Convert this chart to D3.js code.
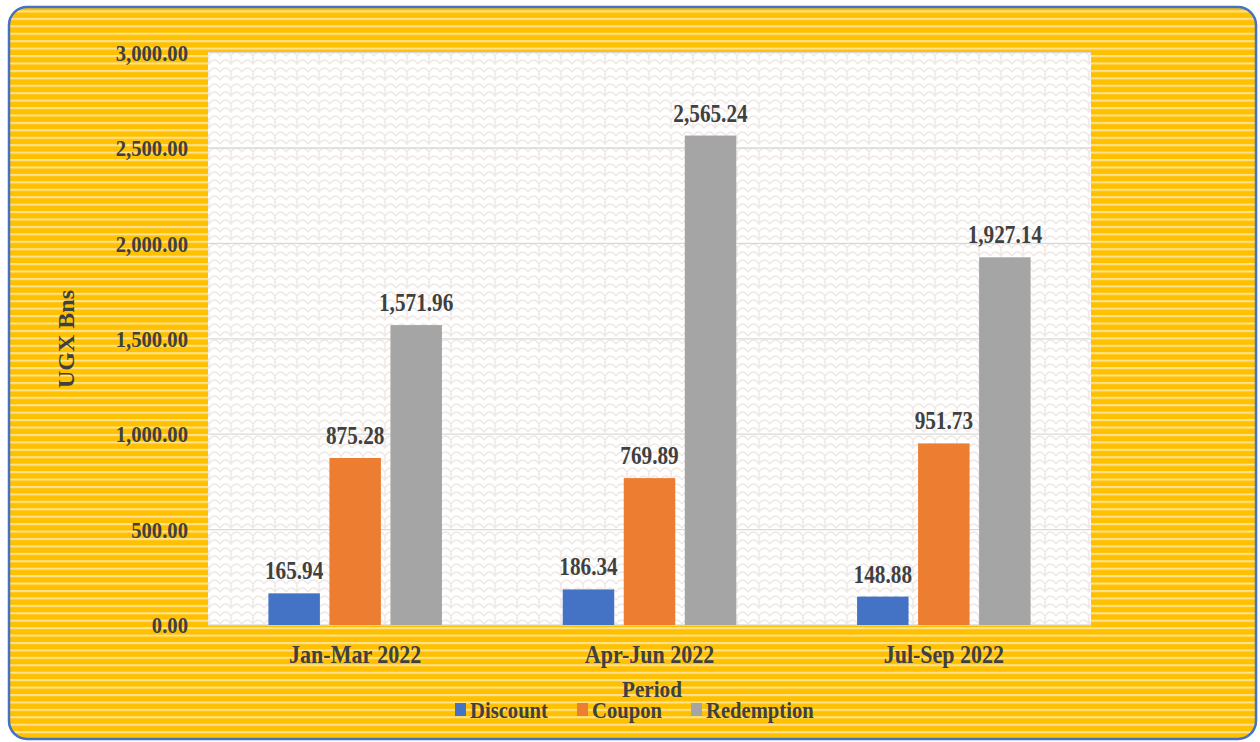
<!DOCTYPE html>
<html><head><meta charset="utf-8">
<script src="https://cdn.jsdelivr.net/npm/d3@7"></script>
<style>html,body{margin:0;padding:0;background:#fff;}svg{display:block;}</style>
</head><body>
<script>
const categories = ["Jan-Mar 2022", "Apr-Jun 2022", "Jul-Sep 2022"];
const seriesNames = ["Discount", "Coupon", "Redemption"];
const discount = [165.94, 186.34, 148.88];
const coupon = [875.28, 769.89, 951.73];
const redemption = [1571.96, 2565.24, 1927.14];
const yTicks = [0, 500, 1000, 1500, 2000, 2500, 3000];
const colors = ["#4472C4", "#ED7D31", "#A5A5A5"];

const values = [discount, coupon, redemption];
const W = 1260, H = 742;
const svg = d3.select("body").append("svg").attr("width", W).attr("height", H);
const defs = svg.append("defs");

const stripe = defs.append("pattern").attr("id", "stripes").attr("patternUnits", "userSpaceOnUse")
  .attr("width", 20).attr("height", 7.43).attr("y", 3);
stripe.append("rect").attr("width", 20).attr("height", 7.43).attr("fill", "#FFC000");
stripe.append("rect").attr("y", 0).attr("width", 20).attr("height", 2.1).attr("fill", "#FFE28F");

const scale = defs.append("pattern").attr("id", "scales").attr("patternUnits", "userSpaceOnUse")
  .attr("width", 22).attr("height", 16);
scale.append("rect").attr("width", 22).attr("height", 16).attr("fill", "#FFFFFF");
scale.append("path").attr("d", "M0,8 Q5.5,0 11,8 Q16.5,0 22,8 M-11,16 Q-5.5,8 0,16 M0,16 Q5.5,8 11,16 Q16.5,8 22,16 M11,8 Q11,12 11,16 M0,0 Q5.5,-8 11,0 Q16.5,-8 22,0")
  .attr("fill", "none").attr("stroke", "#EFE8E4").attr("stroke-width", 1.5);

svg.append("rect").attr("x", 9).attr("y", 7).attr("width", 1247).attr("height", 732).attr("rx", 18)
  .attr("fill", "url(#stripes)");

const margin = {left: 208, right: 1091, top: 52.6, bottom: 625};
const x0 = d3.scaleBand().domain(categories).range([margin.left, margin.right]).paddingInner(0).paddingOuter(0);
const x1 = d3.scaleBand().domain(seriesNames).range([0, x0.bandwidth()]).paddingInner(0.156).paddingOuter(0.99);
const y = d3.scaleLinear().domain([0, 3000]).range([margin.bottom, margin.top]);

svg.append("rect").attr("x", margin.left).attr("y", margin.top).attr("width", margin.right - margin.left)
  .attr("height", margin.bottom - margin.top).attr("fill", "url(#scales)");

// gridlines
svg.append("g").selectAll("line").data(yTicks.filter(d => d > 0)).join("line")
  .attr("x1", margin.left).attr("x2", margin.right)
  .attr("y1", d => y(d)).attr("y2", d => y(d))
  .attr("stroke", "#D9D9D9").attr("stroke-width", 1.3);

const font = "'Liberation Serif','Times New Roman',serif";
const textCol = "#404040";

function condense(sel, sx) {
  sel.attr("transform", function() {
    const x = +(this.getAttribute("x") || 0);
    return `translate(${x},0) scale(${sx},1) translate(${-x},0)`;
  });
}

// y axis tick labels
const fmt = d3.format(",.2f");
const yAxis = d3.axisLeft(y).tickValues(yTicks).tickFormat(fmt).tickSize(0).tickPadding(20);
const gy = svg.append("g").attr("transform", `translate(${margin.left},0)`).call(yAxis);
gy.select(".domain").remove();
gy.selectAll("text").attr("font-family", font).attr("font-weight", "bold").attr("font-size", 23.5)
  .attr("fill", textCol).attr("dy", "0.33em").call(condense, 0.88);

// x axis
svg.append("line").attr("x1", margin.left).attr("x2", margin.right).attr("y1", y(0)).attr("y2", y(0))
  .attr("stroke", "#D9D9D9").attr("stroke-width", 1.3);
const xAxis = d3.axisBottom(x0).tickSize(0).tickPadding(20);
const gx = svg.append("g").attr("transform", `translate(0,${margin.bottom})`).call(xAxis);
gx.select(".domain").remove();
gx.selectAll("text").attr("font-family", font).attr("font-weight", "bold").attr("font-size", 25)
  .attr("fill", textCol).call(condense, 0.88);

// bars
const groups = svg.append("g").selectAll("g").data(categories).join("g")
  .attr("transform", d => `translate(${x0(d)},0)`);
groups.selectAll("rect").data((c, i) => seriesNames.map((s, j) => ({s, v: values[j][i], j}))).join("rect")
  .attr("x", d => x1(d.s)).attr("width", x1.bandwidth())
  .attr("y", d => y(d.v)).attr("height", d => y(0) - y(d.v))
  .attr("fill", d => colors[d.j]);
groups.selectAll("text").data((c, i) => seriesNames.map((s, j) => ({s, v: values[j][i], j}))).join("text")
  .attr("x", d => x1(d.s) + x1.bandwidth() / 2).attr("y", d => y(d.v) - 14)
  .attr("text-anchor", "middle").attr("font-family", font).attr("font-weight", "bold").attr("font-size", 25)
  .attr("fill", textCol).text(d => fmt(d.v)).call(condense, 0.85);

// axis titles
svg.append("text").attr("transform", "translate(74,339) rotate(-90)").attr("text-anchor", "middle")
  .attr("font-family", font).attr("font-weight", "bold").attr("font-size", 24)
  .attr("fill", textCol).text("UGX Bns");
svg.append("text").attr("x", 652).attr("y", 697).attr("text-anchor", "middle")
  .attr("font-family", font).attr("font-weight", "bold").attr("font-size", 23).attr("fill", textCol)
  .text("Period").call(condense, 0.92);

// legend
const legendX = [455, 577, 691];
const lg = svg.append("g").selectAll("g").data(seriesNames).join("g")
  .attr("transform", (d, i) => `translate(${legendX[i]},0)`);
lg.append("rect").attr("x", 0).attr("y", 703).attr("width", 11).attr("height", 13).attr("fill", (d, i) => colors[i]);
lg.append("text").attr("x", 15).attr("y", 718).attr("font-family", font).attr("font-weight", "bold")
  .attr("font-size", 24).attr("fill", textCol).text(d => d).call(condense, 0.86);

// frame border
svg.append("rect").attr("x", 9).attr("y", 7).attr("width", 1247).attr("height", 732).attr("rx", 18)
  .attr("fill", "none").attr("stroke", "#4472C4").attr("stroke-width", 2.5);
</script>
</body></html>
